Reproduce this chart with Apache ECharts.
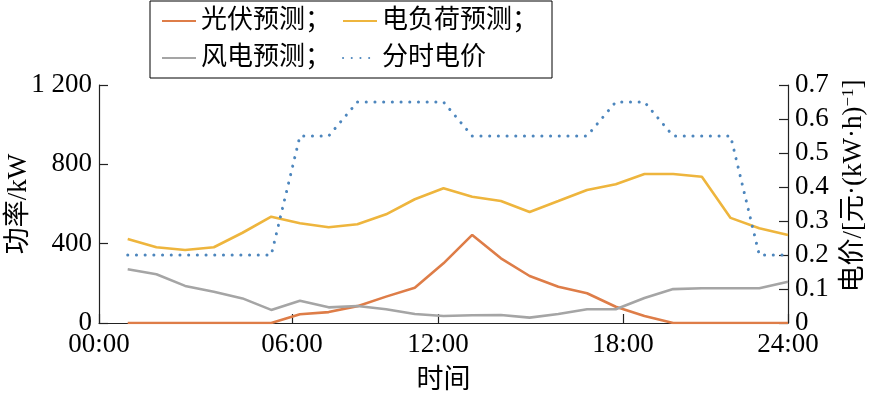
<!DOCTYPE html>
<html><head><meta charset="utf-8">
<script src="https://cdn.jsdelivr.net/npm/echarts@6/dist/echarts.min.js"></script>
<style>html,body{margin:0;padding:0;background:#fff}#c{width:896px;height:395px}</style>
</head><body><div id="c"></div>
<script>
// hour index of each forecast point (1:00 ... 24:00)
const hours = [1,2,3,4,5,6,7,8,9,10,11,12,13,14,15,16,17,18,19,20,21,22,23,24];
const pv    = [0,0,0,0,0,0,44,55,85,133,178,301,444,326,237,183,150,82,35,0,0,0,0,0];
const load  = [424,382,368,382,455,536,503,483,498,548,624,679,637,615,560,615,671,700,751,751,737,530,478,444];
const wind  = [271,246,187,158,124,66,112,79,86,69,45,35,39,40,27,45,69,69,126,171,175,175,175,208];
const price = [0.2,0.2,0.2,0.2,0.2,0.2,0.55,0.55,0.65,0.65,0.65,0.65,0.55,0.55,0.55,0.55,0.55,0.65,0.65,0.55,0.55,0.55,0.2,0.2];
const seriesNames = ['光伏预测','电负荷预测','风电预测','分时电价'];
const xTickValues = [0, 6.72, 11.81, 18.25, 24];
const xTickLabels = ['00:00','06:00','12:00','18:00','24:00'];
const leftTicks = [0, 400, 800, 1200];
const leftTickLabels = ['0','400','800','1 200'];

const FONT = "'Liberation Serif','Noto Sans CJK SC',serif";
const AX = '#222';
const pair = arr => hours.map((h, i) => [h, arr[i]]);

const chart = echarts.init(document.getElementById('c'), null, {renderer: 'canvas'});
const axisCommon = {
  axisLine: {show: true, lineStyle: {color: AX, width: 1.2}},
  axisTick: {show: true, inside: true, length: 9, lineStyle: {color: AX, width: 1.2}},
  splitLine: {show: false},
  nameLocation: 'middle',
  nameMoveOverlap: false,
  nameTextStyle: {fontFamily: FONT, fontSize: 27, color: '#000'}
};
chart.setOption({
  animation: false,
  backgroundColor: '#fff',
  grid: {left: 99, right: 108, top: 85, bottom: 72, containLabel: false, outerBoundsMode: 'none'},
  legend: {
    left: 150, top: 1, width: 380,
    orient: 'horizontal',
    padding: [7, 14, 7, 11],
    borderColor: '#000', borderWidth: 1,
    itemWidth: 34, itemHeight: 14, itemGap: 11,
    itemStyle: {opacity: 0},
    textStyle: {fontFamily: FONT, fontSize: 26, color: '#000'},
    formatter: n => n === '分时电价' ? n : n + '；',
    data: seriesNames
  },
  xAxis: Object.assign({}, axisCommon, {
    type: 'value', min: 0, max: 24,
    name: '时间', nameGap: 44,
    axisTick: {show: true, inside: true, length: 9, lineStyle: {color: AX, width: 1.2}, customValues: xTickValues},
    axisLabel: {
      customValues: xTickValues, margin: 8,
      fontFamily: FONT, fontSize: 27, color: '#000',
      formatter: v => { const i = xTickValues.findIndex(t => Math.abs(t - v) < 1e-6); return i >= 0 ? xTickLabels[i] : ''; }
    }
  }),
  yAxis: [
    Object.assign({}, axisCommon, {
      type: 'value', min: 0, max: 1200, interval: 400,
      name: '功率/kW', nameGap: 67, nameRotate: 90,
      axisLabel: {margin: 7, fontFamily: FONT, fontSize: 27, color: '#000',
        formatter: v => { const i = leftTicks.indexOf(v); return i >= 0 ? leftTickLabels[i] : String(v); }}
    }),
    Object.assign({}, axisCommon, {
      type: 'value', min: 0, max: 0.7, interval: 0.1, position: 'right',
      name: '电价/[元·(kW·h){sup|−1}]', nameGap: 52, nameRotate: 90,
      nameTextStyle: {fontFamily: FONT, fontSize: 27, color: '#000', padding: [0, 0, 0, 36],
        rich: {sup: {fontFamily: FONT, fontSize: 17, color: '#000', verticalAlign: 'top'}}},
      axisLabel: {margin: 7, fontFamily: FONT, fontSize: 27, color: '#000',
        formatter: v => String(Math.round(v * 10) / 10)}
    })
  ],
  series: [
    {name: seriesNames[0], type: 'line', data: pair(pv), yAxisIndex: 0, symbol: 'none',
      lineStyle: {color: '#de7d48', width: 2.6}, itemStyle: {color: '#de7d48'}},
    {name: seriesNames[1], type: 'line', data: pair(load), yAxisIndex: 0, symbol: 'none',
      lineStyle: {color: '#eeb53d', width: 2.6}, itemStyle: {color: '#eeb53d'}},
    {name: seriesNames[2], type: 'line', data: pair(wind), yAxisIndex: 0, symbol: 'none',
      lineStyle: {color: '#a5a5a5', width: 2.6}, itemStyle: {color: '#a5a5a5'}},
    {name: seriesNames[3], type: 'line', data: pair(price), yAxisIndex: 1, symbol: 'none',
      lineStyle: {color: '#4d86bd', width: 3, type: [0.1, 8.6], cap: 'round'}, itemStyle: {color: '#4d86bd'}}
  ]
});
</script></body></html>
